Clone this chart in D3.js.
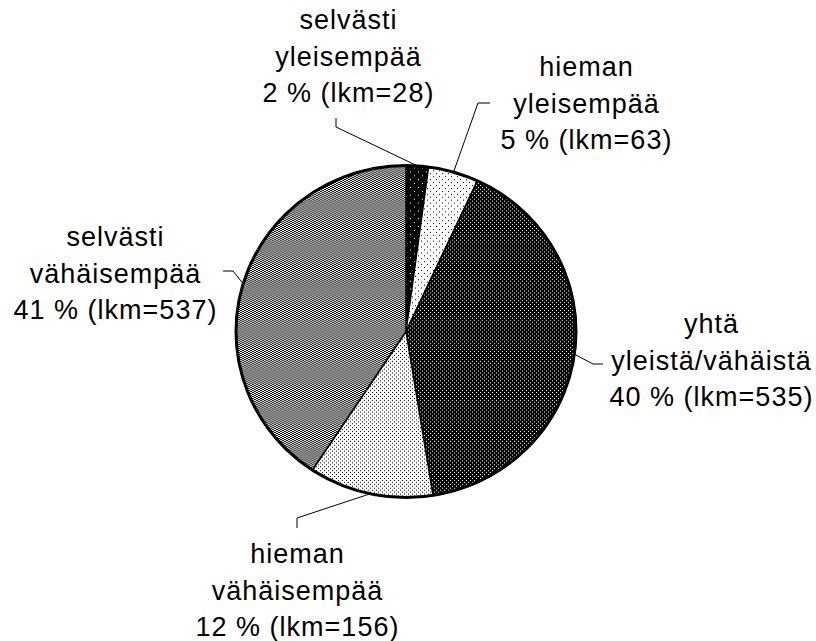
<!DOCTYPE html>
<html><head><meta charset="utf-8">
<script src="https://cdn.jsdelivr.net/npm/d3@7"></script>
<style>
html,body{margin:0;padding:0;background:#fff;}
svg{display:block;}
text{font-family:"Liberation Sans",Arial,sans-serif;font-size:27px;letter-spacing:1px;fill:#000;}
</style></head>
<body>
<svg id="chart" width="816" height="641"></svg>
<script>
const categories = ["selvästi yleisempää","hieman yleisempää","yhtä yleistä/vähäistä","hieman vähäisempää","selvästi vähäisempää"];
const labelLines = [
  ["selvästi","yleisempää","2 % (lkm=28)"],
  ["hieman","yleisempää","5 % (lkm=63)"],
  ["yhtä","yleistä/vähäistä","40 % (lkm=535)"],
  ["hieman","vähäisempää","12 % (lkm=156)"],
  ["selvästi","vähäisempää","41 % (lkm=537)"]
];
const counts = [28, 63, 535, 156, 537];
const patternIds = ["p1","p2","p3","p4","p5"];

// layout
const cx = 406, cy = 331.5, rx = 170, ry = 166;
const labelPos = [ {x:348, y:29}, {x:586, y:76}, {x:711, y:333}, {x:297, y:563}, {x:115, y:246} ];
const lineH = 36.5;
const leaderPts = [
  [[336,118],[336,127]],
  [[490,103],[478,103]],
  [[603,364],[593,364]],
  [[297,528],[297,518]],
  [[223,271],[233,271]]
];

const svg = d3.select("#chart");
const defs = svg.append("defs");
function dotPattern(id, size, bg, fg, dots, w, h){
  const p = defs.append("pattern").attr("id",id).attr("patternUnits","userSpaceOnUse")
    .attr("width",size[0]).attr("height",size[1]);
  p.append("rect").attr("width",size[0]).attr("height",size[1]).attr("fill",bg);
  dots.forEach(d=>p.append("rect").attr("x",d[0]).attr("y",d[1]).attr("width",w).attr("height",h)
    .attr("fill",fg).attr("shape-rendering","crispEdges"));
}
dotPattern("p1",[8,8],"#000","#fff",[[0,0],[4,4]],1,1);
dotPattern("p2",[6,6],"#fff","#000",[[0,0],[3,3]],1,1);
dotPattern("p3",[4,4],"#000","#fff",[[0,0],[2,2]],1,1);
dotPattern("p4",[4,4],"#fff","#000",[[0,0],[2,2]],1,1);
dotPattern("p5",[4,2],"#000","#fff",[[0,0],[2,1]],2,1);

const pie = d3.pie().sort(null).value(d=>d)(counts);
const arc = d3.arc().innerRadius(0).outerRadius(rx);

const g = svg.append("g").attr("transform",`translate(${cx},${cy}) scale(1,${ry/rx})`);
g.selectAll("path").data(pie).join("path")
  .attr("d",arc)
  .attr("fill",(d,i)=>`url(#${patternIds[i]})`)
  .attr("stroke","#000").attr("stroke-width",1.5)
  .attr("vector-effect","non-scaling-stroke");
g.append("ellipse").attr("rx",rx).attr("ry",rx).attr("fill","none")
  .attr("stroke","#000").attr("stroke-width",3).attr("vector-effect","non-scaling-stroke");

pie.forEach((d,i)=>{
  const a = (d.startAngle+d.endAngle)/2;
  const ex = cx + rx*Math.sin(a), ey = cy - ry*Math.cos(a);
  const pts = leaderPts[i].concat([[ex,ey]]);
  svg.append("path").attr("d",d3.line()(pts)).attr("fill","none").attr("stroke","#000").attr("stroke-width",1);
});

labelLines.forEach((lines,i)=>{
  const t = svg.append("text").attr("text-anchor","middle");
  lines.forEach((s,j)=>{
    t.append("tspan").attr("x",labelPos[i].x+0.5).attr("y",labelPos[i].y+j*lineH).text(s);
  });
});
</script>
</body></html>
